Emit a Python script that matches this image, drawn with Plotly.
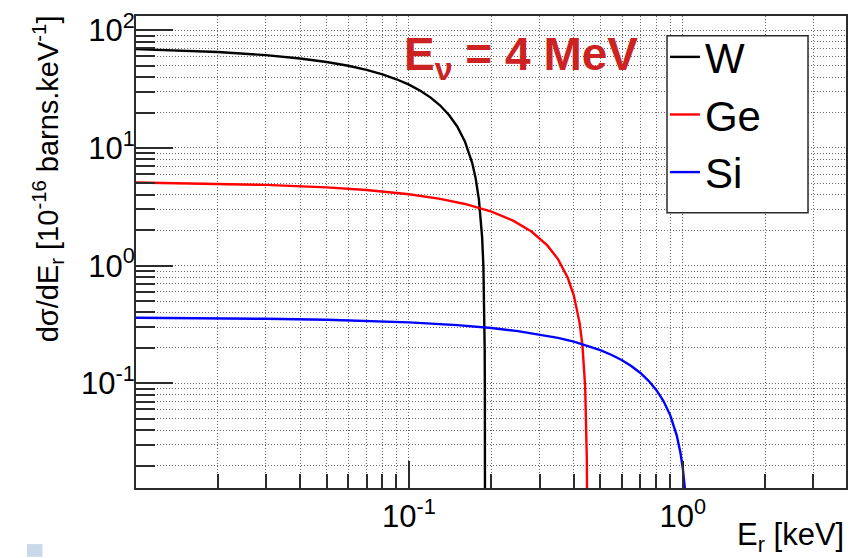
import plotly.graph_objects as go

# Differential cross-section dσ/dE_r [1e-16 barns/keV] vs recoil energy E_r [keV]
w_er = [0.01, 0.015, 0.02, 0.03, 0.04, 0.05, 0.06, 0.07, 0.08, 0.09, 0.10, 0.11, 0.12,
        0.13, 0.14, 0.15, 0.16, 0.17, 0.175, 0.18, 0.183, 0.185, 0.187, 0.188, 0.1885,
        0.189, 0.1893, 0.1894, 0.18945, 0.18948]
w_xs = [69.15, 67.22, 65.30, 61.44, 57.59, 53.74, 49.89, 46.03, 42.18, 38.33, 34.48, 30.63,
        26.77, 22.92, 19.07, 15.22, 11.36, 7.51, 5.59, 3.66, 2.50, 1.73, 0.963, 0.578, 0.385,
        0.193, 0.077, 0.0385, 0.0193, 0.0077]

ge_er = [0.01, 0.02, 0.03, 0.05, 0.07, 0.10, 0.13, 0.16, 0.20, 0.24, 0.28, 0.32, 0.35, 0.38,
         0.40, 0.42, 0.43, 0.44, 0.444, 0.446, 0.447, 0.4475]
ge_xs = [5.084, 4.968, 4.852, 4.620, 4.388, 4.039, 3.691, 3.343, 2.879, 2.414, 1.950, 1.486,
         1.1375, 0.789, 0.557, 0.325, 0.209, 0.0929, 0.0464, 0.0232, 0.0116, 0.0058]

si_er = [0.01, 0.02, 0.03, 0.05, 0.07, 0.10, 0.15, 0.20, 0.25, 0.30, 0.35, 0.40, 0.45, 0.50,
         0.55, 0.60, 0.65, 0.70, 0.75, 0.80, 0.85, 0.90, 0.95, 0.98, 1.00, 1.02, 1.04]
si_xs = [0.3605, 0.3571, 0.3536, 0.3468, 0.3398, 0.3295, 0.3122, 0.2950, 0.2777, 0.2605,
         0.2432, 0.2260, 0.2087, 0.1915, 0.1742, 0.1570, 0.1397, 0.1225, 0.1052, 0.0880,
         0.0707, 0.0535, 0.0362, 0.02588, 0.01898, 0.01208, 0.00518]

series_names = ["W", "Ge", "Si"]
series_colors = ["#000000", "#ff0000", "#0000ff"]

x_major = [0.1, 1]
x_major_text = ["10<sup>-1</sup>", "10<sup>0</sup>"]
x_decades = [0.01, 0.1, 1]
y_major = [0.1, 1, 10, 100]
y_major_text = ["10<sup>-1</sup>", "10<sup>0</sup>", "10<sup>1</sup>", "10<sup>2</sup>"]
y_decades = [0.01, 0.1, 1, 10, 100]

x_minor = [d * k for d in x_decades for k in range(2, 10)]
y_minor = [d * k for d in y_decades for k in range(2, 10)]

FONT = "Liberation Sans, Arial, sans-serif"
AXIS_COL = "#2b2b2b"
GRID_COL = "#666666"

fig = go.Figure()
for name, col, xs, ys in zip(series_names, series_colors,
                             [w_er, ge_er, si_er], [w_xs, ge_xs, si_xs]):
    fig.add_trace(go.Scatter(x=xs, y=ys, mode="lines", name=name,
                             line=dict(color=col, width=2.4)))

axis_common = dict(
    type="log", showline=True, linecolor=AXIS_COL, linewidth=2, mirror=True,
    ticks="inside", tickcolor=AXIS_COL, tickwidth=1.5,
    showgrid=True, gridcolor=GRID_COL, gridwidth=1, griddash="1px,2px",
    zeroline=False, tickfont=dict(family=FONT, size=31, color="#000000"),
)

fig.update_xaxes(
    **axis_common, range=[-1.997, 0.596], tickmode="array",
    tickvals=x_major, ticktext=x_major_text, ticklen=27,
    minor=dict(tickvals=x_minor, ticks="inside", ticklen=14, tickcolor=AXIS_COL,
               tickwidth=1.5, showgrid=True, gridcolor=GRID_COL, gridwidth=1,
               griddash="1px,2px"),
)
fig.update_yaxes(
    **axis_common, range=[-1.889, 2.121], tickmode="array",
    tickvals=y_major, ticktext=y_major_text, ticklen=37, ticklabelstandoff=-7,
    minor=dict(tickvals=y_minor, ticks="inside", ticklen=19, tickcolor=AXIS_COL,
               tickwidth=1.5, showgrid=True, gridcolor=GRID_COL, gridwidth=1,
               griddash="1px,2px"),
)

fig.update_layout(
    width=860, height=558,
    margin=dict(l=136, r=14, t=8, b=70),
    paper_bgcolor="white", plot_bgcolor="white",
    font=dict(family=FONT, color="#000000"),
    showlegend=True,
    legend=dict(x=0.745, y=0.985, xanchor="left", yanchor="top",
                bgcolor="rgba(0,0,0,0)", borderwidth=0,
                font=dict(family=FONT, size=42, color="#000000"),
                itemwidth=30, tracegroupgap=0),
    shapes=[
        # legend frame
        dict(type="rect", xref="paper", yref="paper",
             x0=0.7479, x1=0.9465, y0=0.5833, y1=0.9583,
             line=dict(color=AXIS_COL, width=1.5), fillcolor="white", layer="above"),
        # small slide marker below the axes
        dict(type="rect", xref="paper", yref="paper",
             x0=-0.1535, x1=-0.1317, y0=-0.1458, y1=-0.1188,
             line=dict(width=0), fillcolor="#c9d9ea", layer="above"),
    ],
    annotations=[
        dict(text="E<sub>ν</sub> = 4 MeV", xref="paper", yref="paper",
             x=0.3746, y=0.912, xanchor="left", yanchor="middle", showarrow=False,
             font=dict(family=FONT, size=46, color="#cc2222", weight="bold")),
        dict(text="dσ/dE<sub>r</sub> [10<sup>-16</sup> barns.keV<sup>-1</sup>]",
             xref="paper", yref="paper", x=-0.124, y=0.656, xanchor="center",
             yanchor="middle", textangle=-90, showarrow=False,
             font=dict(family=FONT, size=29, color="#000000")),
        dict(text="E<sub>r</sub> [keV]", xref="paper", yref="paper",
             x=1.0, y=-0.104, xanchor="right", yanchor="middle", showarrow=False,
             font=dict(family=FONT, size=31, color="#000000")),
    ],
)

fig.write_html("out.html")
